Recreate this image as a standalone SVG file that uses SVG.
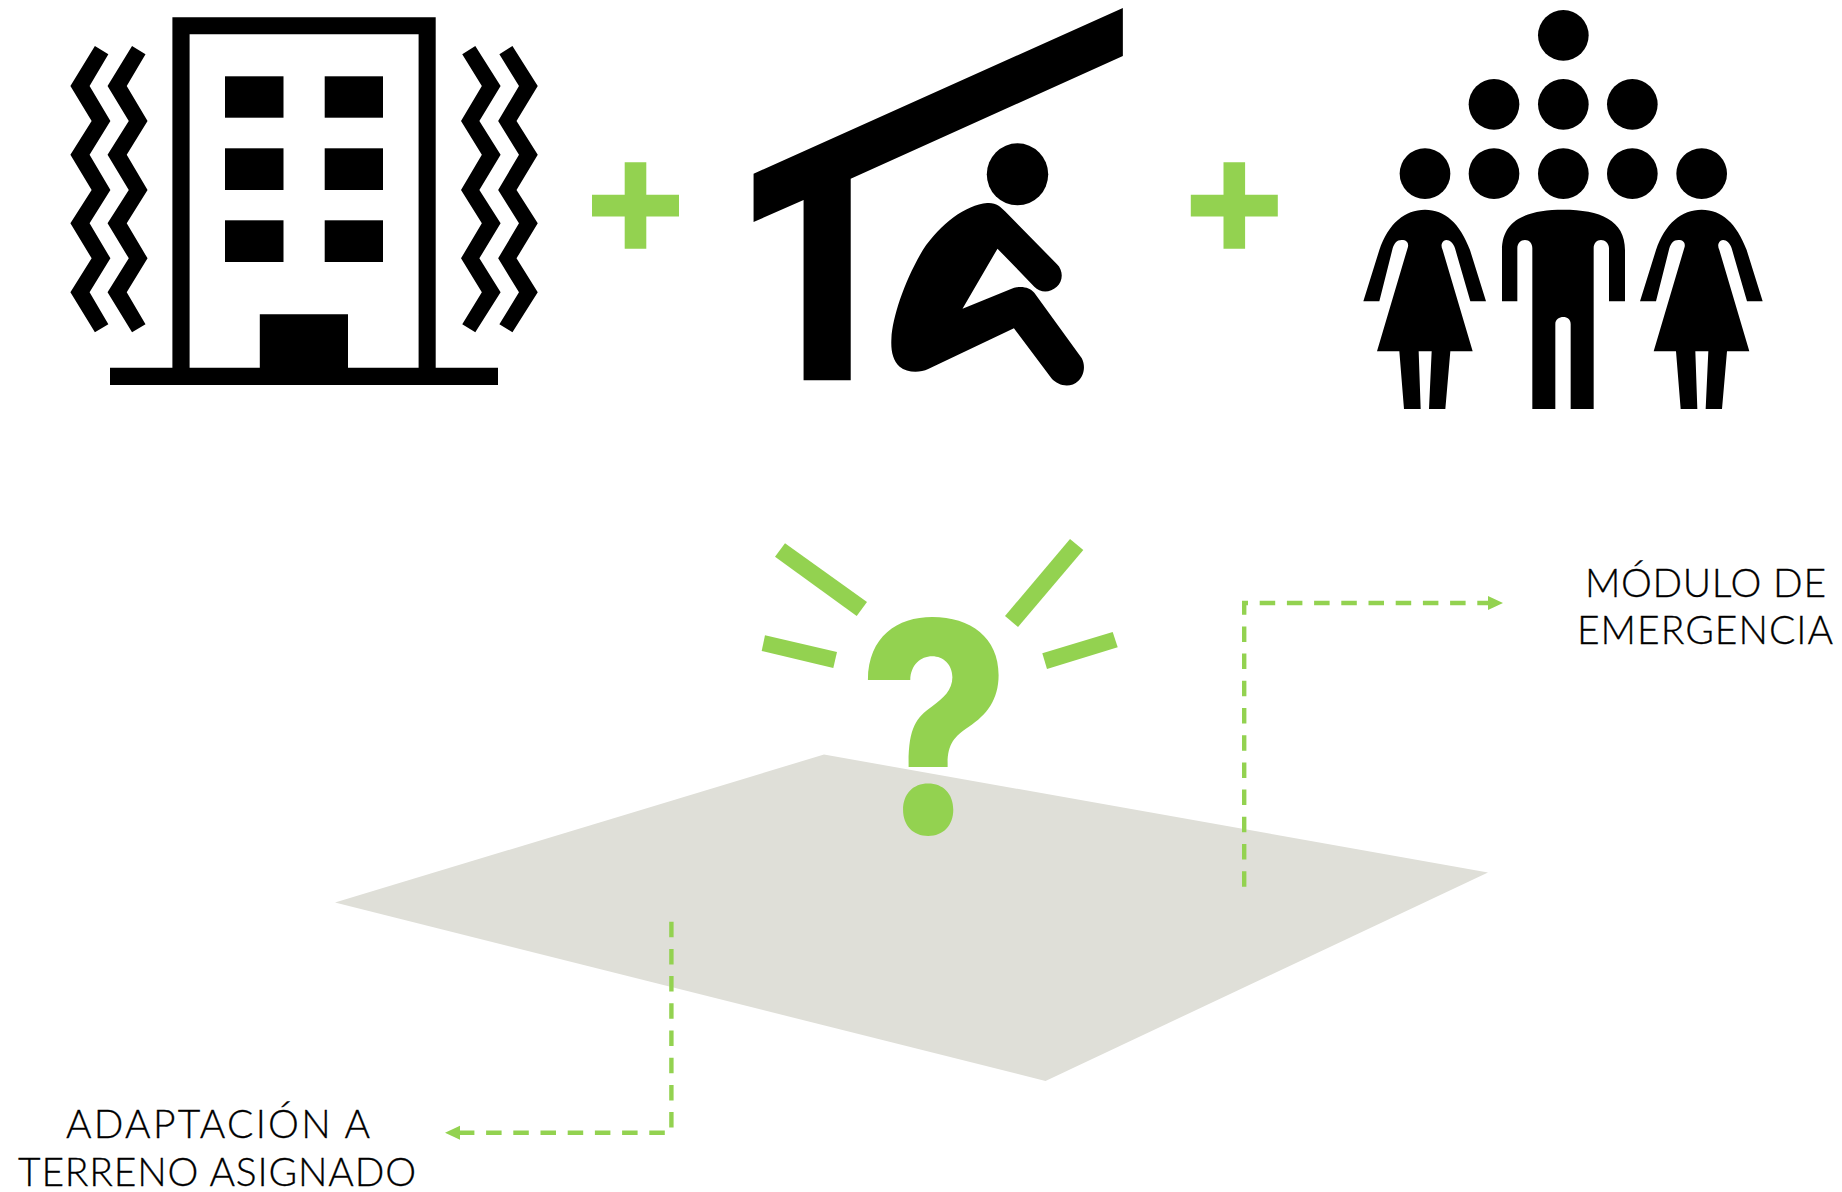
<svg xmlns="http://www.w3.org/2000/svg" width="1842" height="1192" viewBox="0 0 1842 1192">
<style>
.k{fill:#000}
.g{fill:#93D250}
.dash{fill:none;stroke:#93D250;stroke-width:4.400;stroke-dasharray:15.500 11.700;marker-end:url(#arrow)}
.lbl{font-family:"Lato","Liberation Sans",sans-serif;font-weight:300;font-size:39px;fill:#000;stroke:#000;stroke-width:.3}
</style>
<defs>
<marker id="arrow" markerUnits="userSpaceOnUse" markerWidth="16" markerHeight="16" refX="1" refY="8" orient="auto" viewBox="0 0 16 16"><path d="M0 1L15 8L0 15Z" fill="#93D250"/></marker>
<polygon id="zl" points="110,138 143,163 97,258 148,363 97,464 148,570 97,670 148,775 97,877 143,973 110,997 50,877 102,775 50,670 102,570 50,464 102,363 50,258"/>
<polygon id="zr" points="1042,138 1010,163 1058,258 1007,363 1058,464 1007,570 1058,670 1007,775 1058,877 1010,973 1042,997 1104,877 1052,775 1104,670 1052,570 1104,464 1052,363 1104,258"/>
<path id="woman" d="M255 629C315 629 360 670 390 750L438 904L391 904L345 745C340 725 322 715 312 722C303 728 303 740 308 750L398 1054L331 1054L316 1227L267 1227L275 1054L236 1054L242 1227L192 1227L178 1054L111 1054L204 740C206 728 200 720 185 720C170 720 163 730 158 745L118 904L70 904L118 750C145 670 195 629 255 629Z"/>
<polygon id="plus" points="-43.500,-10.800 -10.800,-10.800 -10.800,-43.200 10.800,-43.200 10.800,-10.800 43.500,-10.800 43.500,10.900 10.800,10.900 10.800,43.200 -10.800,43.200 -10.800,10.900 -43.500,10.900"/>
</defs>
<rect width="1842" height="1192" fill="#fff"/>
<g id="building" class="k">
<path fill-rule="evenodd" d="M172.400 17.300H435.700V367.700H498V385H110V367.700H172.400ZM189.600 34.300V367.700H259.800V314.300H348V367.700H418.600V34.300Z"/>
<rect x="225" y="76.300" width="58.500" height="41.400"/><rect x="324.700" y="76.300" width="58.300" height="41.400"/>
<rect x="225" y="148.300" width="58.500" height="41.700"/><rect x="324.700" y="148.300" width="58.300" height="41.700"/>
<rect x="225" y="220.300" width="58.500" height="41.700"/><rect x="324.700" y="220.300" width="58.300" height="41.700"/>
<g transform="translate(50 0) scale(.40816 .33333)"><use href="#zl"/><use href="#zl" x="91"/><use href="#zr"/><use href="#zr" x="91"/></g>
</g>
<g id="plus-1" class="g"><use href="#plus" x="635.500" y="205.500"/></g>
<g id="shelter" class="k" transform="translate(730 0) scale(.35714 .33333)">
<polygon points="66,521 1100,24 1100,168 338,536 338,1141 206,1141 206,600 66,666"/>
<ellipse cx="805" cy="523" rx="86" ry="93"/>
<path d="M720 609C745 607 757 620 770 634L915 792C935 812 932 845 915 860C895 880 868 878 852 860L749 746L651 926L785 868C810 855 838 860 852 878L985 1075C997 1100 990 1128 975 1143C955 1164 920 1160 900 1135L795 985L555 1107C530 1120 495 1118 475 1100C455 1080 450 1050 452 1015C455 950 490 840 540 750C590 670 660 615 720 609Z"/>
</g>
<g id="plus-2" class="g"><use href="#plus" x="1234.300" y="205.500"/></g>
<g id="people" class="k" transform="translate(1340 0) scale(.33333)">
<circle cx="670" cy="106" r="76"/><circle cx="462" cy="313" r="76"/><circle cx="670" cy="313" r="76"/><circle cx="877" cy="313" r="76"/>
<circle cx="255" cy="521" r="76"/><circle cx="462" cy="521" r="76"/><circle cx="670" cy="521" r="76"/><circle cx="877" cy="521" r="76"/><circle cx="1085" cy="521" r="76"/>
<use href="#woman"/><use href="#woman" x="830"/>
<path d="M670 629C780 629 855 660 855 750L855 904L807 904L807 745C807 730 795 720 783 720C770 720 761 730 761 745L761 1227L692 1227L692 972C692 958 682 951 670 951C658 951 646 958 646 972L646 1227L577 1227L577 745C577 730 568 720 555 720C542 720 532 730 532 745L532 904L486 904L486 750C486 660 560 629 670 629Z"/>
</g>
<g id="terrain"><polygon points="824,754.500 1488,872.500 1045.500,1081 335,902.500" fill="#DFDFD8"/></g>
<g id="question" class="g">
<text transform="translate(858 833) scale(.9 1)" font-family="Inter,'Liberation Sans',sans-serif" font-weight="800" font-size="293">?</text>
<polygon points="775,556.700 785,543.300 867,602 856.700,616"/>
<polygon points="761.700,651 765,635.300 837,652 833.300,668"/>
<polygon points="1005,616 1070,539 1083.300,550 1018,627"/>
<polygon points="1042.300,653.300 1112.700,632 1117.700,647.300 1047,669"/>
</g>
<g id="connectors">
<path class="dash" d="M1244.200 886.700V603H1489"/>
<path class="dash" d="M671.400 921.700V1132.700H459"/>
</g>
<g id="label-modulo" class="lbl">
<text x="1585" y="596.700" textLength="241" lengthAdjust="spacing">MÓDULO DE</text>
<text x="1577" y="644" textLength="256" lengthAdjust="spacing">EMERGENCIA</text>
</g>
<g id="label-adaptacion" class="lbl">
<text x="66" y="1137.700" textLength="304" lengthAdjust="spacing">ADAPTACIÓN A</text>
<text x="18" y="1185.700" textLength="398" lengthAdjust="spacing">TERRENO ASIGNADO</text>
</g>
</svg>
